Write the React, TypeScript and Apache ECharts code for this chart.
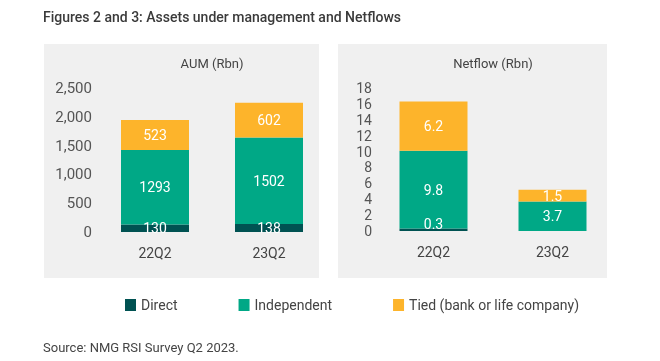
import React, { useEffect, useRef } from "react";
import * as echarts from "echarts";

const categories = ["22Q2", "23Q2"];
const aumDirect = [130, 138];
const aumIndependent = [1293, 1502];
const aumTied = [523, 602];
const flowDirect = [0.3, 0];
const flowIndependent = [9.8, 3.7];
const flowTied = [6.2, 1.5];

const COLORS = { direct: "#005252", independent: "#00a886", tied: "#fdb42b" };
const FONT = "Roboto, 'Liberation Sans', sans-serif";

export default function App() {
  const ref = useRef<HTMLDivElement>(null);
  useEffect(() => {
    if (!ref.current) return;
    const chart = echarts.init(ref.current, null, { renderer: "svg" });
    const label = (offsetY = 0) => ({
      show: true,
      position: "inside",
      color: "#ffffff",
      fontSize: 14,
      fontFamily: FONT,
      offset: [0, offsetY],
      formatter: (p: any) => (p.value === 0 ? "" : String(p.value)),
    });
    const bar = (name: string, data: number[], idx: number, stack: string, color: string, off = 0) => ({
      name,
      type: "bar",
      stack,
      xAxisIndex: idx,
      yAxisIndex: idx,
      data,
      barWidth: 68,
      itemStyle: { color },
      label: label(off),
    });
    const xAxis = (idx: number) => ({
      type: "category",
      gridIndex: idx,
      data: categories,
      axisLine: { show: false },
      axisTick: { show: false },
      axisLabel: { color: "#444", fontSize: 14, fontFamily: FONT, margin: 14 },
    });
    chart.setOption({
      animation: false,
      textStyle: { fontFamily: FONT },
      graphic: [
        { type: "rect", shape: { x: 44, y: 44, width: 275, height: 234 }, style: { fill: "#f0f0f0" }, z: -10 },
        { type: "rect", shape: { x: 338, y: 44, width: 269, height: 234 }, style: { fill: "#f0f0f0" }, z: -10 },
        {
          type: "text",
          x: 43,
          y: 17,
          style: { text: "Figures 2 and 3: Assets under management and Netflows", fill: "#3a3a3a", fontSize: 14, fontWeight: 500, fontFamily: FONT, verticalAlign: "middle" },
        },
        {
          type: "text",
          x: 212,
          y: 63,
          style: { text: "AUM (Rbn)", fill: "#444", fontSize: 13, fontFamily: FONT, align: "center", verticalAlign: "middle" },
        },
        {
          type: "text",
          x: 493,
          y: 63,
          style: { text: "Netflow (Rbn)", fill: "#444", fontSize: 13, fontFamily: FONT, align: "center", verticalAlign: "middle" },
        },
        {
          type: "text",
          x: 43,
          y: 347,
          style: { text: "Source: NMG RSI Survey Q2 2023.", fill: "#444", fontSize: 13, fontFamily: FONT, verticalAlign: "middle" },
        },
      ],
      legend: {
        left: 120,
        top: 293,
        icon: "rect",
        itemWidth: 11,
        itemHeight: 12,
        itemGap: 61,
        textStyle: { color: "#444", fontSize: 14, fontFamily: FONT },
        data: ["Direct", "Independent", "Tied (bank or life company)"],
      },
      grid: [
        { left: 98, top: 88, width: 228, height: 144 },
        { left: 374, top: 88, width: 238, height: 143 },
      ],
      xAxis: [xAxis(0), xAxis(1)],
      yAxis: [
        {
          type: "value",
          gridIndex: 0,
          min: 0,
          max: 2500,
          interval: 500,
          splitLine: { show: false },
          axisLabel: {
            color: "#555",
            fontSize: 15,
            fontFamily: FONT,
            margin: 6,
            formatter: (v: number) => v.toLocaleString("en-US"),
          },
        },
        {
          type: "value",
          gridIndex: 1,
          min: 0,
          max: 18,
          interval: 2,
          splitLine: { show: false },
          axisLabel: { color: "#555", fontSize: 14, fontFamily: FONT, margin: 2 },
        },
      ],
      series: [
        bar("Direct", aumDirect, 0, "aum", COLORS.direct),
        bar("Independent", aumIndependent, 0, "aum", COLORS.independent),
        bar("Tied (bank or life company)", aumTied, 0, "aum", COLORS.tied),
        bar("Direct", flowDirect, 1, "flow", COLORS.direct, -6),
        bar("Independent", flowIndependent, 1, "flow", COLORS.independent),
        bar("Tied (bank or life company)", flowTied, 1, "flow", COLORS.tied),
      ],
    });
    return () => chart.dispose();
  }, []);
  return <div ref={ref} style={{ position: "fixed", left: 0, top: 0, width: 660, height: 361 }} />;
}
